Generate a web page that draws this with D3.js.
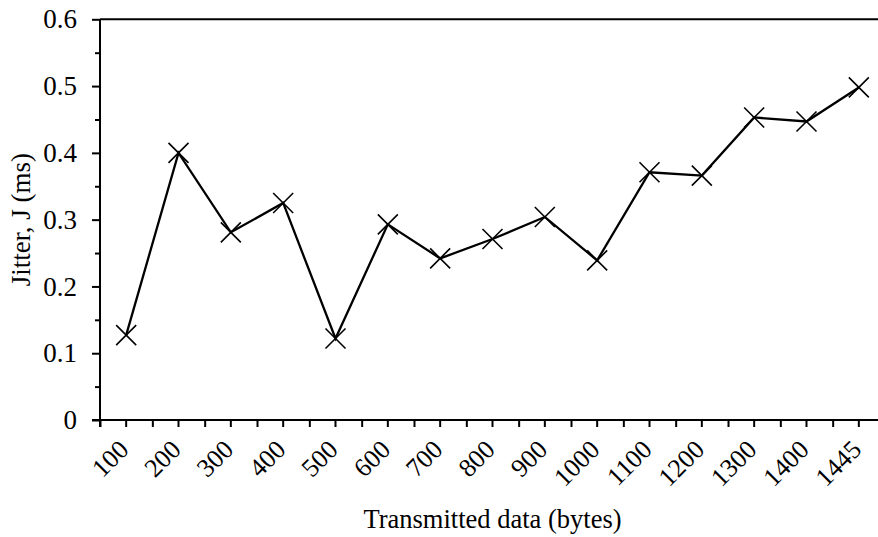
<!DOCTYPE html>
<html>
<head>
<meta charset="utf-8">
<script src="https://cdn.jsdelivr.net/npm/d3@7"></script>
<style>
  html, body { margin: 0; padding: 0; background: #fff; }
  svg { display: block; }
  text { font-family: "Liberation Serif", "Times New Roman", Times, serif; fill: #000; }
</style>
</head>
<body>
<svg id="chart" width="878" height="537"></svg>
<script>
// Jitter measured per transmitted payload size
const categories = ["100", "200", "300", "400", "500", "600", "700", "800",
                    "900", "1000", "1100", "1200", "1300", "1400", "1445"];
const jitter = [0.127, 0.400, 0.281, 0.325, 0.122, 0.293, 0.242, 0.271,
                0.304, 0.239, 0.371, 0.366, 0.453, 0.447, 0.498];
const yTicks = [0, 0.1, 0.2, 0.3, 0.4, 0.5, 0.6];
const yMinorTicks = [0.05, 0.15, 0.25, 0.35, 0.45, 0.55];
const xTitle = "Transmitted data (bytes)";
const yTitle = "Jitter, J (ms)";

(function draw() {
  const svg = d3.select("#chart");
  const plotLeft = 100, plotRight = 885, plotTop = 19.3, plotBottom = 420;
  const serif = "'Liberation Serif', 'Times New Roman', serif";

  const x = d3.scaleBand().domain(categories).range([plotLeft, plotRight]).padding(0);
  const y = d3.scaleLinear().domain([0, 0.6]).range([plotBottom, plotTop]);
  const edge = d3.scaleLinear().domain([0, categories.length]).range([plotLeft, plotRight]);

  const stroke = 2;

  // Top frame line
  svg.append("line")
    .attr("x1", plotLeft).attr("x2", plotRight)
    .attr("y1", y(0.6)).attr("y2", y(0.6))
    .attr("stroke", "#000").attr("stroke-width", stroke);

  // Y axis: major ticks with labels
  const yAxis = svg.append("g")
    .attr("transform", `translate(${plotLeft},0)`)
    .call(d3.axisLeft(y).tickValues(yTicks).tickSize(8).tickPadding(15)
      .tickFormat(d => d === 0 ? "0" : d3.format(".1f")(d)));
  yAxis.select(".domain").remove();
  yAxis.selectAll(".tick line").attr("stroke", "#000").attr("stroke-width", stroke);
  yAxis.selectAll(".tick text").style("font-size", "27px").style("font-family", serif);

  // Y axis: minor ticks
  const yMinor = svg.append("g")
    .attr("transform", `translate(${plotLeft},0)`)
    .call(d3.axisLeft(y).tickValues(yMinorTicks).tickSize(5).tickFormat(""));
  yMinor.select(".domain").remove();
  yMinor.selectAll(".tick line").attr("stroke", "#000").attr("stroke-width", stroke);

  // Y axis line
  svg.append("line")
    .attr("x1", plotLeft).attr("x2", plotLeft)
    .attr("y1", y(0.6)).attr("y2", plotBottom + 7)
    .attr("stroke", "#000").attr("stroke-width", stroke);

  // X axis: ticks at band edges
  const xEdges = svg.append("g")
    .attr("transform", `translate(0,${plotBottom})`)
    .call(d3.axisBottom(edge).tickValues(d3.range(0, categories.length + 1)).tickSize(7).tickFormat(""));
  xEdges.select(".domain").remove();
  xEdges.selectAll(".tick line").attr("stroke", "#000").attr("stroke-width", stroke);

  // X axis: ticks and labels at band centres
  const xAxis = svg.append("g")
    .attr("transform", `translate(0,${plotBottom})`)
    .call(d3.axisBottom(x).tickSize(7).tickPadding(0));
  xAxis.select(".domain").remove();
  xAxis.selectAll(".tick line").attr("stroke", "#000").attr("stroke-width", stroke);
  xAxis.selectAll(".tick text")
    .style("font-size", "26px")
    .style("font-family", serif)
    .attr("text-anchor", "end")
    .attr("dy", null)
    .attr("y", 0)
    .attr("transform", "translate(4,31) rotate(-45)");

  // X axis line
  svg.append("line")
    .attr("x1", plotLeft - 8).attr("x2", plotRight)
    .attr("y1", plotBottom).attr("y2", plotBottom)
    .attr("stroke", "#000").attr("stroke-width", stroke);

  // Data line
  const pts = categories.map((c, i) => [x(c) + x.bandwidth() / 2, y(jitter[i])]);
  svg.append("path")
    .attr("d", d3.line()(pts))
    .attr("fill", "none")
    .attr("stroke", "#000")
    .attr("stroke-width", 2.3)
    .attr("stroke-linejoin", "miter");

  // Cross markers
  const m = 10;
  svg.append("g").selectAll("path")
    .data(pts)
    .join("path")
    .attr("d", d => `M${d[0]-m},${d[1]-m}L${d[0]+m},${d[1]+m}M${d[0]-m},${d[1]+m}L${d[0]+m},${d[1]-m}`)
    .attr("stroke", "#000")
    .attr("stroke-width", 1.6)
    .attr("fill", "none");

  // Axis titles
  svg.append("text")
    .attr("x", (plotLeft + plotRight) / 2)
    .attr("y", 528)
    .attr("text-anchor", "middle")
    .style("font-size", "26.5px")
    .text(xTitle);

  svg.append("text")
    .attr("transform", `translate(30,${(plotTop + plotBottom) / 2}) rotate(-90)`)
    .attr("text-anchor", "middle")
    .style("font-size", "27px")
    .text(yTitle);
})();
</script>
</body>
</html>
